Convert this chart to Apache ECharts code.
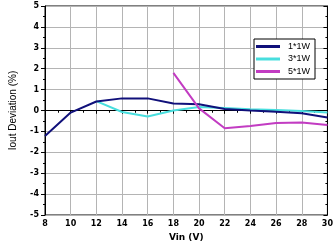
<!DOCTYPE html>
<html><head><meta charset="utf-8">
<script src="https://cdn.jsdelivr.net/npm/echarts@6/dist/echarts.min.js"></script>
<style>html,body{margin:0;padding:0;background:#fff}#c{width:336px;height:251px}</style>
</head><body><div id="c"></div>
<script>
const vin1 = [8,10,12,14,16,18,20,22,24,26,28,30];
const dev1 = [-1.22,-0.1,0.43,0.58,0.58,0.33,0.3,0.07,0.0,-0.06,-0.13,-0.33];
const vin3 = [12,14,16,18,20,22,24,26,28,30];
const dev3 = [0.45,-0.07,-0.29,0.0,0.17,0.12,0.06,0.02,-0.02,-0.1];
const vin5 = [18,20,22,24,26,28,30];
const dev5 = [1.8,0.1,-0.85,-0.74,-0.6,-0.57,-0.69];
const names = ['1*1W','3*1W','5*1W'];
const colors = ['#10107a','#48dede','#c23cc2'];
const xTitle = 'Vin (V)';
const yTitle = 'Iout Deviation (%)';

const pair = (xs, ys) => xs.map((x, i) => [x, ys[i]]);
const lab = {color:'#000', fontSize:8, fontWeight:'bold', fontFamily:'DejaVu Sans'};
const chart = echarts.init(document.getElementById('c'));
chart.setOption({
  animation:false,
  grid:{left:44, right:5, top:6, bottom:36, show:true, borderColor:'#000', borderWidth:1},
  legend:{
    data:names, orient:'vertical', left:254, top:39, itemWidth:24, itemHeight:3, itemGap:3.5,
    padding:[3,5,3,2], borderColor:'#000', borderWidth:1, backgroundColor:'#fff',
    icon:'rect', textStyle:{fontSize:9, lineHeight:9, color:'#000', fontFamily:'Liberation Sans', padding:[0,0,0,3]}
  },
  xAxis:[{
    type:'value', min:8, max:30, interval:2, position:'bottom',
    name:xTitle, nameLocation:'middle', nameGap:17,
    nameTextStyle:{fontSize:9, fontWeight:'bold', color:'#000', fontFamily:'DejaVu Sans'},
    axisLine:{lineStyle:{color:'#000'}}, axisTick:{inside:false, length:3, lineStyle:{color:'#000'}},
    minorTick:{show:true, splitNumber:2, length:2, lineStyle:{color:'#000'}},
    axisLabel:Object.assign({margin:5}, lab),
    splitLine:{show:true, lineStyle:{color:'#b4b4b4', width:1}}
  },{
    type:'value', min:8, max:30, interval:2, position:'top',
    axisLine:{lineStyle:{color:'#000'}}, axisTick:{inside:true, length:3, lineStyle:{color:'#000'}},
    minorTick:{show:true, splitNumber:2, length:2, lineStyle:{color:'#000'}},
    axisLabel:{show:false}, splitLine:{show:false}
  }],
  yAxis:[{
    type:'value', min:-5, max:5, interval:1, position:'left',
    name:yTitle, nameLocation:'middle', nameGap:27, nameRotate:90,
    nameTextStyle:{fontSize:10, color:'#000', fontFamily:'Liberation Sans'},
    axisLine:{lineStyle:{color:'#000'}}, axisTick:{inside:false, length:4, lineStyle:{color:'#000'}},
    minorTick:{show:true, splitNumber:2, length:2, lineStyle:{color:'#000'}},
    axisLabel:Object.assign({margin:6}, lab),
    splitLine:{show:true, lineStyle:{color:'#b4b4b4', width:1}}
  },{
    type:'value', min:-5, max:5, interval:1, position:'right',
    axisLine:{lineStyle:{color:'#000'}}, axisTick:{inside:true, length:4, lineStyle:{color:'#000'}},
    minorTick:{show:true, splitNumber:2, length:2, lineStyle:{color:'#000'}},
    axisLabel:{show:false}, splitLine:{show:false}
  }],
  series:[
    {name:names[0], type:'line', data:pair(vin1,dev1), showSymbol:false, lineStyle:{width:2, color:colors[0]}, itemStyle:{color:colors[0]}, z:3},
    {name:names[1], type:'line', data:pair(vin3,dev3), showSymbol:false, lineStyle:{width:2, color:colors[1]}, itemStyle:{color:colors[1]}, z:2},
    {name:names[2], type:'line', data:pair(vin5,dev5), showSymbol:false, lineStyle:{width:2, color:colors[2]}, itemStyle:{color:colors[2]}, z:4}
  ]
});
</script></body></html>
